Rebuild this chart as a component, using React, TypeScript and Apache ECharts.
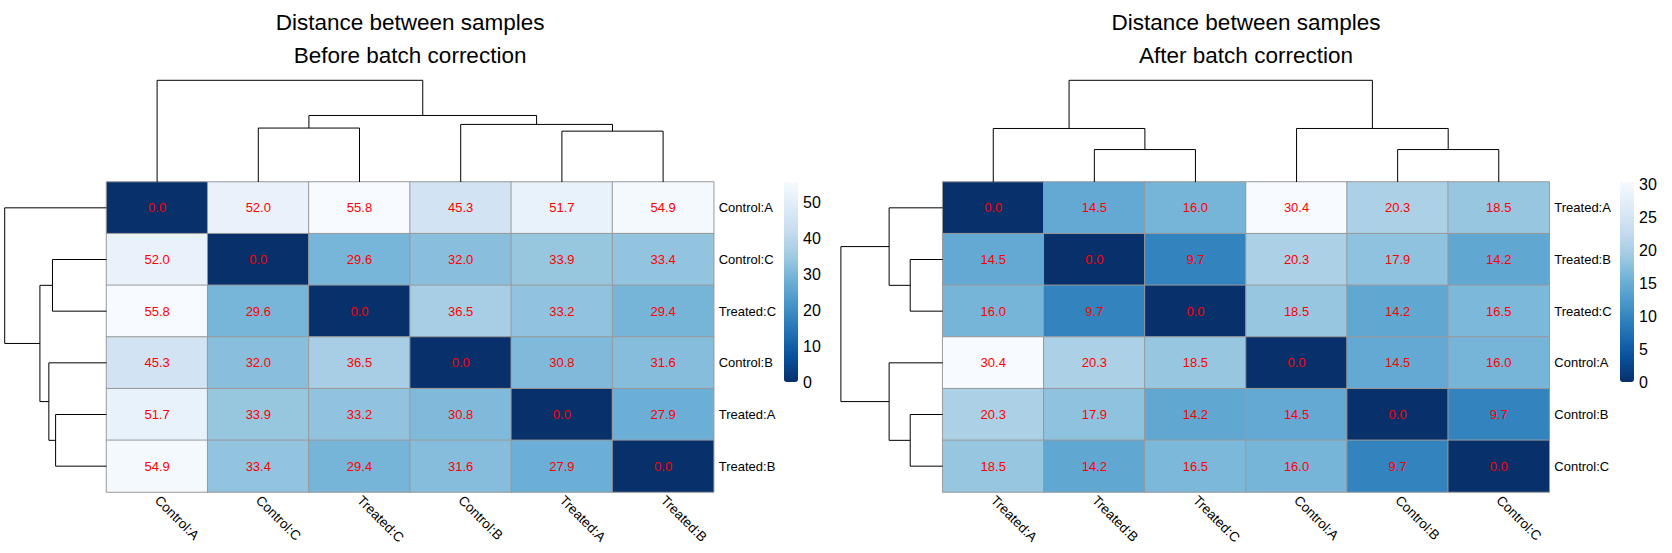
import React, { useEffect, useRef } from "react";
import * as echarts from "echarts";

// ---------- data ----------
const leftOrder = ["Control:A", "Control:C", "Treated:C", "Control:B", "Treated:A", "Treated:B"];
const leftMatrix = [
  [0.0, 52.0, 55.8, 45.3, 51.7, 54.9],
  [52.0, 0.0, 29.6, 32.0, 33.9, 33.4],
  [55.8, 29.6, 0.0, 36.5, 33.2, 29.4],
  [45.3, 32.0, 36.5, 0.0, 30.8, 31.6],
  [51.7, 33.9, 33.2, 30.8, 0.0, 27.9],
  [54.9, 33.4, 29.4, 31.6, 27.9, 0.0],
];
// merges: [childA, childB, height]; string = leaf, number = earlier merge index
const leftMerges: [string | number, string | number, number][] = [
  ["Treated:A", "Treated:B", 27.9],
  ["Control:C", "Treated:C", 29.6],
  ["Control:B", 0, 31.6],
  [1, 2, 36.5],
  ["Control:A", 3, 55.8],
];
const leftTicks = [0, 10, 20, 30, 40, 50];

const rightOrder = ["Treated:A", "Treated:B", "Treated:C", "Control:A", "Control:B", "Control:C"];
const rightMatrix = [
  [0.0, 14.5, 16.0, 30.4, 20.3, 18.5],
  [14.5, 0.0, 9.7, 20.3, 17.9, 14.2],
  [16.0, 9.7, 0.0, 18.5, 14.2, 16.5],
  [30.4, 20.3, 18.5, 0.0, 14.5, 16.0],
  [20.3, 17.9, 14.2, 14.5, 0.0, 9.7],
  [18.5, 14.2, 16.5, 16.0, 9.7, 0.0],
];
const rightMerges: [string | number, string | number, number][] = [
  ["Treated:B", "Treated:C", 9.7],
  ["Control:B", "Control:C", 9.7],
  ["Treated:A", 0, 16.0],
  ["Control:A", 1, 16.0],
  [2, 3, 30.4],
];
const rightTicks = [0, 5, 10, 15, 20, 25, 30];

const titleLine1 = "Distance between samples";
const leftTitle2 = "Before batch correction";
const rightTitle2 = "After batch correction";

const BLUES = ["#08306B", "#08519C", "#2171B5", "#4292C6", "#6BAED6", "#9ECAE1", "#C6DBEF", "#DEEBF7", "#F7FBFF"];
const FONT = "'Liberation Sans', Arial, Helvetica, sans-serif";

function buildDendro(order: string[], merges: [string | number, string | number, number][]) {
  const pos: number[] = [];
  const hgt: number[] = [];
  const segs: number[][][] = [];
  merges.forEach(([a, b, h]) => {
    const xa = typeof a === "string" ? order.indexOf(a) + 0.5 : pos[a];
    const ha = typeof a === "string" ? 0 : hgt[a];
    const xb = typeof b === "string" ? order.indexOf(b) + 0.5 : pos[b];
    const hb = typeof b === "string" ? 0 : hgt[b];
    segs.push([[xa, ha], [xa, h], [xb, h], [xb, hb]]);
    pos.push((xa + xb) / 2);
    hgt.push(h);
  });
  return segs;
}

function matrixData(m: number[][]) {
  const out: number[][] = [];
  m.forEach((row, r) => row.forEach((v, c) => out.push([c, r, v])));
  return out;
}

type Panel = {
  order: string[];
  matrix: number[][];
  merges: [string | number, string | number, number][];
  ticks: number[];
  left: number;
  width: number;
  barLeft: number;
  t2: string;
};

const TOP = 182;
const HEIGHT = 310;
const DTOP = 80.3;
const DH = TOP - DTOP;
const DW = 101.8;

export default function App() {
  const ref = useRef<HTMLDivElement>(null);
  useEffect(() => {
    if (!ref.current) return;
    const chart = echarts.init(ref.current, null, { renderer: "svg" });
    const panels: Panel[] = [
      { order: leftOrder, matrix: leftMatrix, merges: leftMerges, ticks: leftTicks, left: 106.5, width: 607.2, barLeft: 784, t2: leftTitle2 },
      { order: rightOrder, matrix: rightMatrix, merges: rightMerges, ticks: rightTicks, left: 942.7, width: 606.6, barLeft: 1620, t2: rightTitle2 },
    ];
    const grid: any[] = [];
    const xAxis: any[] = [];
    const yAxis: any[] = [];
    const series: any[] = [];
    const visualMap: any[] = [];
    const graphic: any[] = [];
    panels.forEach((p) => {
      const maxV = Math.max(...p.matrix.flat());
      const rootH = p.merges[p.merges.length - 1][2];
      const segs = buildDendro(p.order, p.merges);
      const step = p.ticks[1] - p.ticks[0];
      // heatmap grid
      const gH = grid.length;
      grid.push({ left: p.left, top: TOP, width: p.width, height: HEIGHT });
      xAxis.push({
        type: "category", gridIndex: gH, data: p.order, position: "bottom",
        axisLine: { show: false }, axisTick: { show: false }, splitLine: { show: false },
        axisLabel: { rotate: -45, margin: 6, fontSize: 13.5, color: "#000", fontFamily: FONT, interval: 0 },
      });
      yAxis.push({
        type: "category", gridIndex: gH, data: p.order, inverse: true, position: "right",
        axisLine: { show: false }, axisTick: { show: false }, splitLine: { show: false },
        axisLabel: { margin: 5, fontSize: 13, color: "#000", fontFamily: FONT, interval: 0 },
      });
      const hmIndex = series.length;
      series.push({
        type: "heatmap", xAxisIndex: gH, yAxisIndex: gH, data: matrixData(p.matrix),
        itemStyle: { borderColor: "#999999", borderWidth: 1 },
        label: {
          show: true, color: "#FF0000", fontSize: 13, fontFamily: FONT,
          formatter: (q: any) => q.value[2].toFixed(1),
        },
        emphasis: { disabled: true },
      });
      visualMap.push({
        type: "continuous", seriesIndex: hmIndex, min: 0, max: maxV,
        inRange: { color: BLUES }, calculable: false, orient: "vertical",
        left: p.barLeft, top: TOP, itemWidth: 14, itemHeight: 200, padding: 0,
        text: null, showLabel: false, hoverLink: false,
      });
      // column dendrogram
      const gC = grid.length;
      grid.push({ left: p.left, top: DTOP, width: p.width, height: DH });
      xAxis.push({ type: "value", gridIndex: gC, min: 0, max: 6, show: false });
      yAxis.push({ type: "value", gridIndex: gC, min: 0, max: rootH, show: false });
      series.push({
        type: "custom", xAxisIndex: gC, yAxisIndex: gC, data: segs.map((_, i) => [i]),
        renderItem: (params: any, api: any) => ({
          type: "polyline",
          shape: { points: segs[params.dataIndex].map((pt) => api.coord([pt[0], pt[1]])) },
          style: { stroke: "#000", lineWidth: 1, fill: null },
        }),
        silent: true,
      });
      // row dendrogram
      const gR = grid.length;
      grid.push({ left: p.left - DW, top: TOP, width: DW, height: HEIGHT });
      xAxis.push({ type: "value", gridIndex: gR, min: 0, max: rootH, inverse: true, show: false });
      yAxis.push({ type: "value", gridIndex: gR, min: 0, max: 6, inverse: true, show: false });
      series.push({
        type: "custom", xAxisIndex: gR, yAxisIndex: gR, data: segs.map((_, i) => [i]),
        renderItem: (params: any, api: any) => ({
          type: "polyline",
          shape: { points: segs[params.dataIndex].map((pt) => api.coord([pt[1], pt[0]])) },
          style: { stroke: "#000", lineWidth: 1, fill: null },
        }),
        silent: true,
      });
      // colorbar axis
      const gB = grid.length;
      grid.push({ left: p.barLeft, top: TOP, width: 14, height: 200 });
      xAxis.push({ type: "value", gridIndex: gB, min: 0, max: 1, show: false });
      yAxis.push({
        type: "value", gridIndex: gB, min: 0, max: maxV, interval: step, position: "right",
        axisLine: { show: false }, axisTick: { show: false }, splitLine: { show: false },
        axisLabel: {
          margin: 5, fontSize: 16, color: "#000", fontFamily: FONT, showMaxLabel: false,
          formatter: (v: number) => (p.ticks.indexOf(Math.round(v * 1000) / 1000) >= 0 ? String(v) : ""),
        },
      });
      series.push({ type: "scatter", xAxisIndex: gB, yAxisIndex: gB, data: [], silent: true });
      // titles
      const cx = p.left + p.width / 2;
      graphic.push({
        type: "text", x: cx, y: 22.5, silent: true,
        style: { text: titleLine1, fontSize: 22.5, fontFamily: FONT, fill: "#000", textAlign: "center", textVerticalAlign: "middle" },
      });
      graphic.push({
        type: "text", x: cx, y: 55.5, silent: true,
        style: { text: p.t2, fontSize: 22.5, fontFamily: FONT, fill: "#000", textAlign: "center", textVerticalAlign: "middle" },
      });
    });
    chart.setOption({
      animation: false,
      backgroundColor: "#ffffff",
      textStyle: { fontFamily: FONT },
      grid, xAxis, yAxis, series, visualMap, graphic,
    });
    return () => chart.dispose();
  }, []);
  return (
    <div
      ref={ref}
      style={{ position: "fixed", left: 0, top: 0, width: 1672, height: 553, background: "#fff" }}
    />
  );
}
